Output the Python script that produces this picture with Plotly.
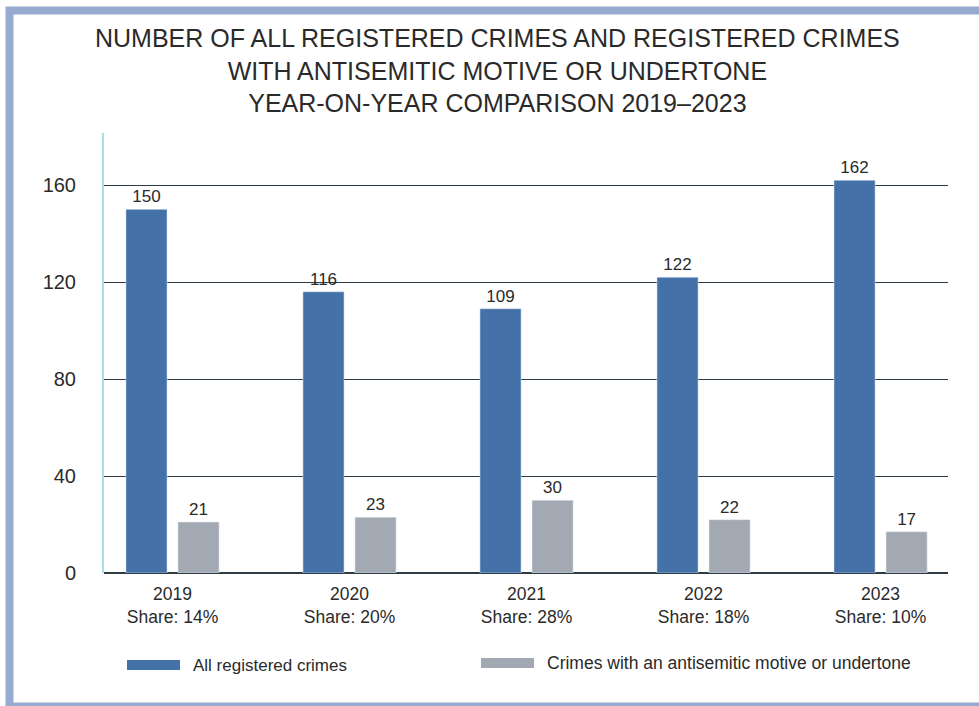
import plotly.graph_objects as go

years = ["2019", "2020", "2021", "2022", "2023"]
shares = ["14%", "20%", "28%", "18%", "10%"]
all_crimes = [150, 116, 109, 122, 162]
antisemitic = [21, 23, 30, 22, 17]
series_names = ["All registered crimes", "Crimes with an antisemitic motive or undertone"]
y_ticks = [0, 40, 80, 120, 160]
title_lines = [
    "NUMBER OF ALL REGISTERED CRIMES AND REGISTERED CRIMES",
    "WITH ANTISEMITIC MOTIVE OR UNDERTONE",
    "YEAR-ON-YEAR COMPARISON 2019\u20132023",
]

BLUE = "#4472a8"
GRAY = "#a3a9b2"
TXT = "#2a2a2a"
FONT = "Liberation Sans, Arial, sans-serif"

W, H = 979, 706
L, R, T, B = 104, 31, 133, 133
PW, PH = W - L - R, H - T - B

def px(x):
    return (x - L) / PW

def py(y):
    return (H - B - y) / PH

x_idx = list(range(len(years)))
tick_text = [f"{y}<br>Share: {s}" for y, s in zip(years, shares)]

fig = go.Figure()
fig.add_trace(go.Bar(
    x=x_idx, y=all_crimes, name=series_names[0], marker_color=BLUE,
    text=[str(v) for v in all_crimes], textposition="outside",
    textfont=dict(size=17, color=TXT, family=FONT), cliponaxis=False,
    showlegend=False,
))
fig.add_trace(go.Bar(
    x=x_idx, y=antisemitic, name=series_names[1], marker_color=GRAY,
    text=[str(v) for v in antisemitic], textposition="outside",
    textfont=dict(size=17, color=TXT, family=FONT), cliponaxis=False,
    showlegend=False,
))

fig.update_layout(
    width=W, height=H,
    margin=dict(l=L, r=R, t=T, b=B),
    paper_bgcolor="white", plot_bgcolor="white",
    barmode="group", bargap=0.412, bargroupgap=0.21,
    font=dict(family=FONT, color=TXT),
    xaxis=dict(
        range=[-0.387, 4.381], tickvals=x_idx, ticktext=tick_text,
        tickfont=dict(size=17.5, color=TXT), showgrid=False, zeroline=False,
        showline=False, ticks="outside", ticklen=5, tickcolor="rgba(0,0,0,0)",
    ),
    yaxis=dict(
        range=[0, 181.5], tickvals=y_ticks, tickfont=dict(size=20, color=TXT),
        showgrid=True, gridcolor="#2e3a44", gridwidth=1,
        zeroline=True, zerolinecolor="#2e3a44", zerolinewidth=1.5,
        showline=True, linecolor="#aadcec", linewidth=2,
        ticks="outside", ticklen=22, tickcolor="rgba(0,0,0,0)",
    ),
)

shapes = [
    dict(type="rect", xref="paper", yref="paper",
         x0=px(9.5), x1=px(990), y0=py(10.5), y1=py(706.5),
         line=dict(color="#97aacf", width=8), fillcolor="rgba(0,0,0,0)", layer="below"),
    dict(type="rect", xref="paper", yref="paper",
         x0=px(127), x1=px(180), y0=py(660), y1=py(670),
         fillcolor=BLUE, line=dict(width=0)),
    dict(type="rect", xref="paper", yref="paper",
         x0=px(481), x1=px(534), y0=py(658), y1=py(668),
         fillcolor=GRAY, line=dict(width=0)),
]

annotations = [
    dict(text="<br>".join(title_lines), xref="paper", yref="paper",
         x=px(497), y=py(70), xanchor="center", yanchor="middle",
         showarrow=False, font=dict(size=25, color=TXT, family=FONT), align="center"),
    dict(text=series_names[0], xref="paper", yref="paper",
         x=px(191), y=py(665), xanchor="left", yanchor="middle",
         showarrow=False, font=dict(size=17, color=TXT, family=FONT)),
    dict(text=series_names[1], xref="paper", yref="paper",
         x=px(545), y=py(663), xanchor="left", yanchor="middle",
         showarrow=False, font=dict(size=17.5, color=TXT, family=FONT)),
]

fig.update_layout(shapes=shapes, annotations=annotations)
fig.write_html(
    "out.html",
    config={"displayModeBar": False},
    post_script="document.body.style.margin='0';document.body.style.overflow='hidden';",
)
